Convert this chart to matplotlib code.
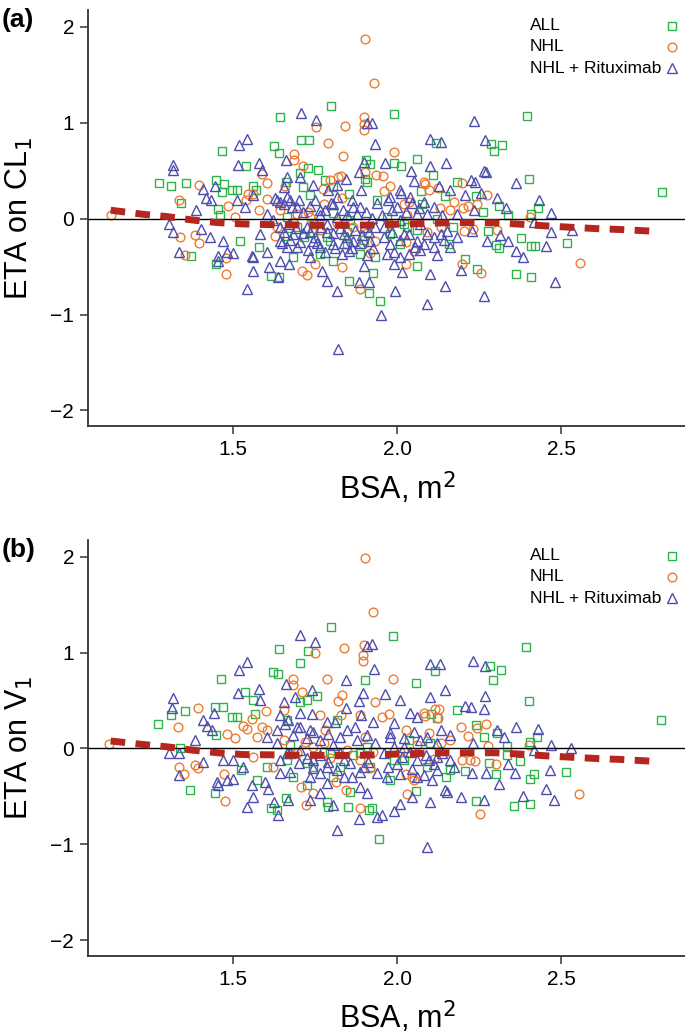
import numpy as np
import matplotlib
matplotlib.use('Agg')
import matplotlib.pyplot as plt

plt.rcParams['font.family'] = ['Liberation Sans', 'DejaVu Sans']

series_names = ['ALL', 'NHL', 'NHL + Rituximab']
series_colors = ['#2cb34a', '#ec7c30', '#4d4db0']
series_markers = ['s', 'o', '^']

# panel (a): ETA on CL1 vs BSA, (bsa, eta) pairs
all_a = [
    (1.799, 1.17), (1.644, 1.06), (1.707, 0.816), (1.731, 0.816), (1.626, 0.757), (1.639, 0.687),
    (1.467, 0.701), (1.539, 0.544), (1.728, 0.53), (1.758, 0.51), (1.705, 0.474), (1.275, 0.373),
    (1.312, 0.339), (1.356, 0.37), (1.448, 0.398), (1.473, 0.363), (1.466, 0.276), (1.496, 0.293),
    (1.512, 0.293), (1.562, 0.339), (1.569, 0.293), (1.341, 0.161), (1.454, 0.102), (1.461, 0.032),
    (1.522, -0.229), (1.578, -0.299), (1.371, -0.393), (1.449, -0.473), (1.616, -0.595), (1.64, -0.613),
    (1.853, -0.648), (1.926, -0.571), (1.916, -0.776), (1.947, -0.856), (1.906, 0.614), (1.918, 0.572),
    (1.903, 0.415), (1.91, 0.38), (1.781, 0.405), (1.806, 0.328), (1.853, 0.259), (1.735, 0.241),
    (1.713, 0.328), (1.662, 0.38), (1.664, -0.177), (1.715, -0.194), (1.745, -0.055), (1.796, -0.229),
    (1.847, -0.264), (1.766, -0.369), (1.684, -0.403), (1.806, -0.438), (1.888, -0.369), (1.939, 0.189),
    (1.933, -0.403), (1.664, 0.021), (1.695, -0.083), (1.745, -0.135), (1.786, -0.188), (1.847, -0.135),
    (1.898, -0.222), (1.806, 0.056), (1.857, -0.014),
    (1.99, 1.088), (2.395, 1.07), (2.288, 0.774), (2.319, 0.771), (2.296, 0.701), (2.12, 0.788),
    (1.99, 0.582), (2.012, 0.544), (2.061, 0.624), (2.109, 0.45), (2.403, 0.412), (2.807, 0.272),
    (2.184, 0.38), (2.074, 0.286), (2.146, 0.234), (2.24, 0.234), (2.429, 0.109), (2.409, 0.05),
    (2.263, 0.067), (2.337, 0.032), (2.312, 0.126), (2.172, -0.083), (2.276, -0.125), (2.378, -0.205),
    (2.409, -0.282), (2.422, -0.282), (2.301, -0.275), (2.312, -0.306), (2.518, -0.257), (2.159, -0.264),
    (2.207, -0.421), (2.243, -0.526), (2.061, -0.491), (2.362, -0.578), (2.407, -0.606), (2.01, -0.264),
    (2.077, 0.154), (2.031, -0.09), (1.98, -0.16), (1.969, 0.017), (2.02, -0.052), (2.061, -0.122),
    (2.123, 0.0),
]
nhl_a = [
    (1.902, 1.87), (1.929, 1.41),
    (1.128, 0.038), (1.395, 0.353), (1.334, 0.196), (1.339, -0.188), (1.385, -0.167), (1.395, -0.257),
    (1.354, -0.376), (1.478, -0.41), (1.478, -0.578), (1.486, 0.133), (1.507, 0.015), (1.539, 0.189),
    (1.562, 0.259), (1.603, 0.37), (1.588, 0.468), (1.578, 0.091), (1.628, -0.177), (1.659, 0.335),
    (1.686, 0.677), (1.686, 0.607), (1.713, 0.548), (1.754, 0.955), (1.789, 0.788), (1.835, 0.649),
    (1.84, 0.966), (1.819, 0.433), (1.83, 0.44), (1.796, 0.398), (1.773, 0.311), (1.832, 0.217),
    (1.728, 0.067), (1.71, -0.543), (1.725, -0.585), (1.75, -0.473), (1.832, -0.508), (1.888, -0.735),
    (1.9, 1.06), (1.898, 0.99), (1.9, 0.92), (1.896, -0.264), (1.903, 0.485), (1.935, 0.45),
    (1.933, -0.229), (1.918, -0.362), (1.695, 0.05), (1.776, 0.154), (1.603, 0.206), (1.547, 0.259),
    (1.634, -0.09), (1.644, 0.09), (1.684, -0.031), (1.735, 0.021), (1.766, -0.118), (1.817, -0.049),
    (1.867, -0.083), (1.908, -0.153),
    (1.99, 0.694), (1.956, 0.44), (2.082, 0.38), (2.084, 0.363), (2.099, 0.3), (2.125, 0.321),
    (1.978, 0.335), (1.959, 0.286), (2.197, 0.37), (2.273, 0.248), (2.215, 0.126), (2.2, 0.112),
    (2.245, 0.147), (2.163, 0.091), (2.131, 0.112), (2.174, 0.171), (2.406, 0.014), (2.036, 0.171),
    (2.02, 0.154), (2.204, -0.132), (2.233, -0.107), (2.306, -0.118), (2.026, -0.247), (2.051, -0.334),
    (2.026, -0.473), (2.199, -0.473), (2.255, -0.567), (2.557, -0.463), (1.98, -0.052), (2.031, 0.035),
    (2.092, -0.139), (2.133, -0.087),
]
ritux_a = [
    (1.82, -1.36),
    (1.316, 0.562), (1.316, 0.503), (1.306, -0.055), (1.316, -0.141), (1.334, -0.35), (1.387, 0.085),
    (1.402, -0.107), (1.41, 0.311), (1.418, 0.217), (1.433, 0.189), (1.444, 0.339), (1.43, -0.195),
    (1.471, -0.229), (1.454, -0.386), (1.454, -0.438), (1.481, -0.351), (1.501, -0.362), (1.517, 0.764),
    (1.544, 0.834), (1.515, 0.557), (1.58, 0.581), (1.588, 0.503), (1.512, 0.196), (1.537, 0.12),
    (1.562, 0.241), (1.557, -0.386), (1.562, -0.403), (1.56, -0.542), (1.542, -0.734), (1.603, -0.351),
    (1.611, -0.508), (1.637, -0.613), (1.662, 0.607), (1.666, 0.433), (1.656, 0.328), (1.705, 0.433),
    (1.708, 1.095), (1.753, 1.032), (1.745, 0.346), (1.791, 0.294), (1.817, 0.346), (1.845, 0.408),
    (1.883, 0.485), (1.898, 0.59), (1.91, 0.997), (1.925, 0.997), (1.933, 0.781), (1.891, 0.294),
    (1.867, 0.12), (1.878, 0.05), (1.817, 0.015), (1.786, -0.141), (1.745, -0.229), (1.766, -0.299),
    (1.695, -0.299), (1.664, -0.299), (1.644, -0.438), (1.671, -0.473), (1.735, -0.403), (1.771, -0.542),
    (1.788, -0.648), (1.818, -0.75), (1.883, -0.664), (1.915, -0.664), (1.898, -0.49), (1.95, -1.01),
    (1.855, -0.333), (1.832, -0.369), (1.806, -0.264), (1.634, 0.189), (1.654, 0.154), (1.674, 0.189),
    (1.695, 0.12), (1.603, 0.05), (1.623, -0.02), (1.583, -0.16), (1.644, -0.229), (1.684, -0.16),
    (1.725, -0.09), (1.766, 0.085), (1.806, 0.154), (1.837, -0.16), (1.867, -0.229), (1.898, -0.09),
    (1.918, -0.229),
    (1.629, 0.219), (1.642, 0.177), (1.664, 0.229), (1.679, 0.125), (1.70, 0.194), (1.713, 0.073),
    (1.735, 0.132), (1.75, 0.194), (1.764, 0.038), (1.781, 0.09), (1.798, 0.16), (1.817, 0.229),
    (1.834, 0.09), (1.847, 0.038), (1.862, 0.194), (1.886, 0.125), (1.906, 0.073), (1.923, 0.003),
    (1.938, 0.16), (1.642, -0.083), (1.656, -0.135), (1.672, -0.056), (1.693, -0.101), (1.713, -0.153),
    (1.735, -0.135), (1.75, -0.188), (1.768, -0.083), (1.788, -0.056), (1.806, -0.146), (1.827, -0.101),
    (1.847, -0.188), (1.872, -0.118), (1.893, -0.17), (1.916, -0.135), (1.933, -0.083), (1.649, -0.257),
    (1.674, -0.222), (1.705, -0.24), (1.73, -0.326), (1.756, -0.257), (1.781, -0.344), (1.811, -0.309),
    (1.837, -0.257), (1.862, -0.309), (1.888, -0.257), (1.91, -0.378), (1.928, -0.309),
    (2.235, 1.014), (2.268, 0.823), (2.102, 0.833), (2.133, 0.798), (1.964, 0.579), (2.102, 0.544),
    (2.148, 0.579), (2.044, 0.492), (2.266, 0.495), (2.271, 0.485), (2.051, 0.387), (2.227, 0.398),
    (2.237, 0.38), (2.363, 0.37), (2.008, 0.3), (2.012, 0.265), (2.128, 0.335), (2.163, 0.293),
    (2.207, 0.241), (2.255, 0.265), (2.306, 0.213), (2.432, 0.196), (2.47, 0.056), (2.332, 0.109),
    (2.235, 0.084), (2.184, 0.05), (2.082, 0.171), (2.041, 0.224), (1.98, 0.224), (1.985, 0.084),
    (2.061, 0.05), (2.419, -0.038), (2.468, -0.142), (2.533, -0.118), (2.455, -0.289), (2.363, -0.334),
    (2.385, -0.404), (2.337, -0.23), (2.274, -0.23), (2.315, -0.167), (2.23, -0.125), (2.184, -0.195),
    (2.112, -0.299), (2.092, -0.16), (2.061, -0.23), (2.02, -0.16), (1.98, -0.264), (1.969, -0.369),
    (2.01, -0.404), (1.99, -0.473), (2.015, -0.56), (2.102, -0.578), (2.194, -0.536), (2.145, -0.707),
    (1.993, -0.752), (2.092, -0.891), (2.266, -0.804), (2.482, -0.665), (2.133, -0.16), (2.153, -0.125),
    (2.071, -0.055), (1.959, -0.09), (2.01, -0.02),
    (1.954, 0.035), (1.974, 0.192), (2.0, 0.122), (2.026, 0.07), (2.046, 0.157), (2.066, 0.105),
    (2.092, 0.052), (2.112, 0.122), (2.138, 0.035), (1.959, -0.192), (1.985, -0.139), (2.01, -0.226),
    (2.036, -0.157), (2.056, -0.296), (2.082, -0.261), (2.112, -0.192), (2.143, -0.226), (2.163, -0.296),
    (1.99, -0.348), (2.036, -0.366), (2.071, -0.331), (2.123, -0.383),
]

# panel (b): ETA on V1 vs BSA
all_b = [
    (1.798, 1.27), (1.641, 1.04), (1.73, 1.016), (1.705, 0.892), (1.623, 0.799), (1.636, 0.781),
    (1.464, 0.722), (1.903, 0.712), (1.537, 0.59), (1.56, 0.51), (1.725, 0.51), (1.756, 0.549),
    (1.705, 0.486), (1.354, 0.389), (1.31, 0.347), (1.271, 0.253), (1.446, 0.434), (1.471, 0.434),
    (1.498, 0.323), (1.512, 0.323), (1.568, 0.358), (1.449, 0.139), (1.339, 0.0), (1.525, -0.226),
    (1.369, -0.434), (1.446, -0.469), (1.573, -0.33), (1.615, -0.625), (1.634, -0.642), (1.661, -0.521),
    (1.786, -0.556), (1.85, -0.608), (1.916, -0.642), (1.925, -0.625), (1.944, -0.948), (1.791, -0.608),
    (1.684, -0.295), (1.725, -0.382), (1.806, -0.295), (1.857, -0.451), (1.664, -0.122), (1.745, -0.191),
    (1.796, -0.052), (1.888, -0.052), (1.918, -0.191), (1.603, -0.191), (1.817, 0.295), (1.664, 0.295),
    (1.674, 0.035), (1.725, -0.156), (1.776, -0.035), (1.827, -0.191), (1.867, -0.069), (1.908, 0.017),
    (1.988, 1.169), (2.392, 1.057), (2.284, 0.855), (2.317, 0.813), (2.294, 0.715), (2.117, 0.803),
    (2.059, 0.68), (2.401, 0.495), (2.805, 0.297), (2.182, 0.401), (2.105, 0.359), (2.123, 0.314),
    (2.24, 0.244), (2.264, 0.115), (2.306, 0.157), (2.427, 0.122), (2.406, 0.07), (2.335, 0.028),
    (2.102, 0.052), (2.335, -0.07), (2.376, -0.129), (2.279, -0.15), (2.301, -0.269), (2.417, -0.262),
    (2.406, -0.314), (2.516, -0.244), (2.161, -0.22), (2.207, -0.234), (2.148, -0.297), (2.058, -0.443),
    (2.357, -0.604), (2.406, -0.583), (2.24, -0.551), (1.98, -0.331), (2.02, -0.122), (1.99, -0.122),
    (2.036, 0.087), (2.092, -0.192),
]
nhl_b = [
    (1.902, 1.99), (1.928, 1.425),
    (1.123, 0.045), (1.392, 0.424), (1.332, 0.226), (1.336, -0.191), (1.352, -0.267), (1.385, -0.174),
    (1.392, -0.208), (1.476, -0.549), (1.473, -0.267), (1.481, 0.156), (1.507, 0.104), (1.532, 0.233),
    (1.542, 0.198), (1.557, 0.302), (1.573, 0.122), (1.588, 0.226), (1.603, 0.191), (1.6, 0.392),
    (1.656, 0.399), (1.684, 0.719), (1.684, 0.66), (1.71, 0.59), (1.751, 0.99), (1.786, 0.719),
    (1.837, 1.042), (1.898, 1.076), (1.896, 0.972), (1.896, 0.913), (1.832, 0.556), (1.819, 0.493),
    (1.83, 0.347), (1.766, 0.347), (1.781, 0.191), (1.886, 0.347), (1.933, 0.486), (1.72, 0.069),
    (1.776, 0.052), (1.903, 0.122), (1.813, -0.347), (1.708, -0.399), (1.745, -0.469), (1.723, -0.59),
    (1.844, -0.434), (1.886, -0.625), (1.918, -0.208), (1.623, -0.191), (1.562, -0.087),
    (1.654, 0.087), (1.695, -0.052), (1.745, 0.017), (1.796, -0.104), (1.847, -0.017), (1.888, -0.122),
    (1.928, -0.035),
    (1.988, 0.722), (1.954, 0.331), (1.977, 0.359), (2.082, 0.366), (2.084, 0.338), (2.115, 0.408),
    (2.128, 0.408), (2.125, 0.314), (2.026, 0.192), (2.271, 0.255), (2.245, 0.209), (2.194, 0.22),
    (2.215, 0.133), (2.163, 0.087), (2.133, 0.059), (2.097, 0.157), (2.276, 0.024), (2.403, 0.035),
    (2.199, -0.122), (2.223, -0.115), (2.237, -0.133), (2.301, -0.164), (2.026, -0.262), (2.046, -0.297),
    (2.051, -0.331), (2.554, -0.471), (2.253, -0.687), (2.031, -0.471), (2.01, -0.035), (2.061, 0.035),
    (2.112, -0.105),
]
ritux_b = [
    (1.316, 0.531), (1.313, 0.424), (1.306, -0.052), (1.336, -0.045), (1.334, -0.278), (1.385, 0.087),
    (1.41, 0.295), (1.42, 0.233), (1.441, 0.365), (1.435, 0.191), (1.41, -0.139), (1.451, -0.347),
    (1.454, -0.382), (1.481, -0.33), (1.501, -0.323), (1.517, 0.816), (1.542, 0.903), (1.514, 0.58),
    (1.578, 0.615), (1.583, 0.51), (1.557, -0.382), (1.56, -0.503), (1.542, -0.608), (1.598, -0.347),
    (1.608, -0.427), (1.625, -0.556), (1.637, -0.694), (1.669, -0.538), (1.662, 0.677), (1.656, 0.486),
    (1.705, 1.181), (1.75, 1.111), (1.689, 0.538), (1.742, 0.608), (1.703, 0.365), (1.742, 0.358),
    (1.644, 0.347), (1.669, 0.295), (1.786, 0.278), (1.811, 0.278), (1.845, 0.712), (1.844, 0.427),
    (1.883, 0.497), (1.896, 0.58), (1.89, 0.347), (1.908, 1.066), (1.923, 1.087), (1.93, 0.833),
    (1.928, 0.278), (1.872, 0.226), (1.695, 0.226), (1.735, 0.191), (1.603, 0.122), (1.634, 0.052),
    (1.664, -0.052), (1.705, -0.017), (1.745, -0.122), (1.786, -0.191), (1.827, -0.052), (1.857, -0.156),
    (1.898, -0.191), (1.644, -0.26), (1.674, -0.243), (1.735, -0.295), (1.766, -0.26), (1.786, -0.365),
    (1.837, -0.295), (1.888, -0.399), (1.735, -0.538), (1.766, -0.469), (1.806, -0.59), (1.91, -0.469),
    (1.883, -0.74), (1.817, -0.851), (1.938, -0.712), (1.501, -0.122), (1.532, -0.191), (1.471, -0.122),
    (1.634, 0.191), (1.659, 0.26), (1.684, 0.139), (1.705, 0.226), (1.725, 0.104), (1.745, 0.174),
    (1.766, 0.087), (1.791, 0.156), (1.806, 0.035), (1.827, 0.122), (1.847, 0.191), (1.878, 0.087),
    (1.908, 0.139), (1.933, 0.052), (1.644, -0.122), (1.674, -0.052), (1.70, -0.156), (1.725, -0.104),
    (1.745, -0.208), (1.766, -0.069), (1.791, -0.139), (1.817, -0.226), (1.837, -0.122), (1.862, -0.295),
    (1.888, -0.243), (1.913, -0.139), (1.938, -0.26),
    (2.232, 0.907), (2.268, 0.862), (2.102, 0.883), (2.131, 0.883), (1.962, 0.569), (2.008, 0.506),
    (2.1, 0.541), (2.145, 0.611), (2.269, 0.548), (2.207, 0.443), (2.225, 0.429), (2.266, 0.408),
    (2.041, 0.373), (2.061, 0.331), (2.363, 0.227), (2.429, 0.199), (2.468, 0.035), (2.531, 0.0),
    (2.327, 0.122), (2.306, 0.192), (2.419, -0.017), (2.233, 0.059), (2.163, 0.14), (2.133, 0.192),
    (1.99, 0.262), (1.98, 0.122), (2.02, 0.017), (2.071, 0.087), (2.465, -0.22), (2.361, -0.255),
    (2.312, -0.373), (2.271, -0.255), (2.23, -0.255), (2.337, -0.157), (2.174, -0.192), (2.107, -0.331),
    (2.061, -0.297), (2.0, -0.157), (1.969, -0.297), (2.455, -0.419), (2.385, -0.499), (2.48, -0.541),
    (2.264, -0.541), (2.194, -0.506), (2.146, -0.436), (2.151, -0.454), (2.1, -0.558), (2.046, -0.506),
    (2.01, -0.576), (1.99, -0.652), (1.954, -0.698), (2.09, -1.022), (2.097, -0.122), (2.123, -0.087),
    (1.959, -0.052), (1.99, 0.017), (2.015, -0.087), (2.041, -0.035), (2.061, -0.122), (2.087, -0.07),
    (2.112, -0.157), (2.138, -0.052), (2.163, -0.122), (1.974, -0.192), (2.01, -0.262), (2.046, -0.209),
    (2.082, -0.279), (2.123, -0.227), (1.98, 0.157), (2.02, 0.105), (2.051, 0.174), (2.092, 0.122),
    (2.123, 0.052),
]

# smoothed trend (red dashed)
trend_bsa = [1.127, 1.224, 1.300, 1.376, 1.454, 1.530, 1.608, 1.684, 1.761, 1.837, 1.914,
             1.990, 2.068, 2.146, 2.225, 2.301, 2.378, 2.456, 2.531, 2.610, 2.686, 2.787]
trend_a = [0.087, 0.045, 0.020, -0.015, -0.042, -0.056, -0.063, -0.066, -0.070, -0.070, -0.068,
           -0.060, -0.052, -0.045, -0.042, -0.045, -0.059, -0.077, -0.091, -0.105, -0.115, -0.133]
trend_b = [0.078, 0.042, 0.017, -0.017, -0.045, -0.063, -0.066, -0.069, -0.072, -0.072, -0.070,
           -0.059, -0.052, -0.045, -0.045, -0.045, -0.059, -0.077, -0.091, -0.105, -0.115, -0.135]

panels = [
    ('(a)', 'ETA on CL$_1$', [all_a, nhl_a, ritux_a], trend_a),
    ('(b)', 'ETA on V$_1$', [all_b, nhl_b, ritux_b], trend_b),
]


def marker_size(mk):
    return 7.5 if mk == '^' else 6.3


fig = plt.figure(figsize=(6.85, 10.36), dpi=100)
ax_rects = [[0.1285, 0.589, 0.8715, 0.401], [0.1285, 0.0775, 0.8715, 0.401]]

for rect, (tag, ylab, groups, trend) in zip(ax_rects, panels):
    ax = fig.add_axes(rect)
    for pts, col, mk in zip(groups, series_colors, series_markers):
        pts = np.array(pts)
        ax.plot(pts[:, 0], pts[:, 1], linestyle='none', marker=mk, ms=marker_size(mk), mfc='none',
                mec=col, mew=1.0)
    ax.axhline(0, color='k', lw=1.0, zorder=3)
    ax.plot(trend_bsa, trend, color='#b5261e', lw=5, linestyle=(0, (2.1, 1.5)), zorder=4)

    ax.set_xlim(1.058, 2.878)
    ax.set_ylim(-2.16, 2.17)
    ax.set_xticks([1.5, 2.0, 2.5])
    ax.set_xticklabels(['1.5', '2.0', '2.5'])
    ax.set_yticks([-2, -1, 0, 1, 2])
    ax.set_yticklabels(['\u22122', '\u22121', '0', '1', '2'])
    for s in ['top', 'right']:
        ax.spines[s].set_visible(False)
    for s in ['left', 'bottom']:
        ax.spines[s].set_color('#333333')
        ax.spines[s].set_linewidth(1.3)
    ax.tick_params(length=6, width=1.1, color='#333333', labelsize=15, pad=4)

    ax.set_xlabel('BSA, m$^2$', fontsize=22)
    ax.xaxis.set_label_coords(0.518, -0.105)
    ax.set_ylabel(ylab, fontsize=22)
    ax.yaxis.set_label_coords(-0.088, 0.5)

    # legend: labels left-aligned, symbols to the right
    for i, (name, col, mk) in enumerate(zip(series_names, series_colors, series_markers)):
        yy = 0.963 - i * 0.051
        ax.text(0.740, yy, name, transform=ax.transAxes, fontsize=12.5, va='center', ha='left')
        ax.plot([0.978], [yy], transform=ax.transAxes, marker=mk, ms=marker_size(mk), mfc='none',
                mec=col, mew=1.0, linestyle='none', clip_on=False)

    fig.text(0.002, rect[1] + rect[3] + 0.002, tag, fontsize=19, fontweight='bold', va='top', ha='left')

fig.savefig('out.png', dpi=100)
